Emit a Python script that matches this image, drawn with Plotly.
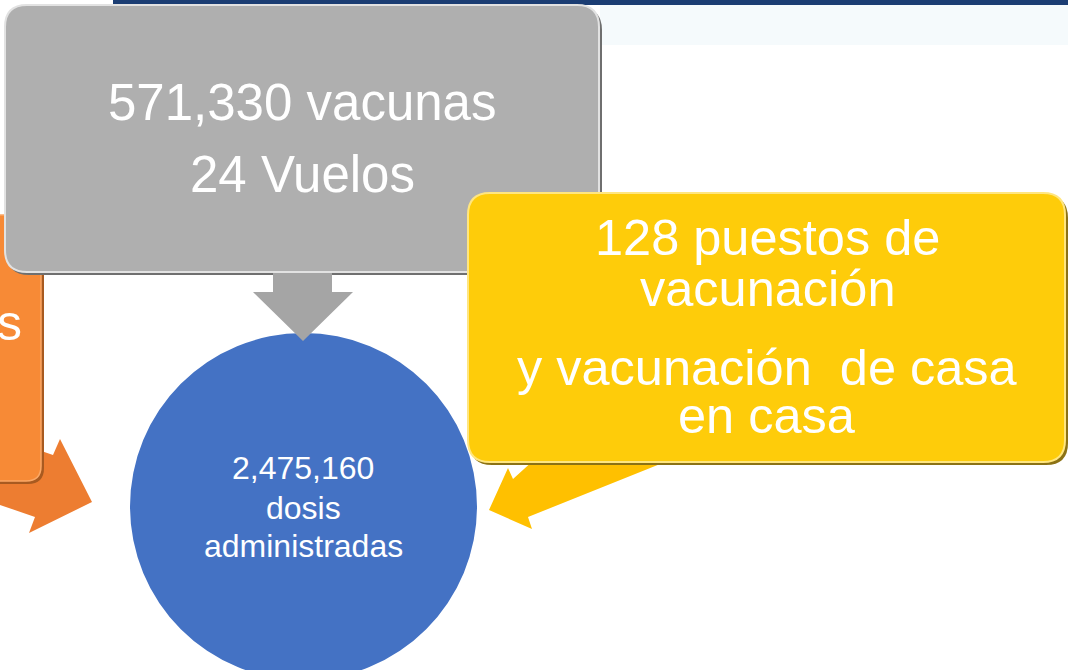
import plotly.graph_objects as go

# ---- content (text values) ----
gray_lines = ["571,330 vacunas", "24 Vuelos"]
yellow_lines = ["128 puestos de", "vacunación", "y vacunación\u00a0 de casa", "en casa"]
circle_lines = ["2,475,160", "dosis", "administradas"]
orange_lines = ["s"]

W, H = 1068, 670
FONT = "Liberation Sans, Arial, sans-serif"

def rrect(x0, y0, x1, y1, r):
    return (f"M {x0+r},{y0} L {x1-r},{y0} Q {x1},{y0} {x1},{y0+r} "
            f"L {x1},{y1-r} Q {x1},{y1} {x1-r},{y1} L {x0+r},{y1} "
            f"Q {x0},{y1} {x0},{y1-r} L {x0},{y0+r} Q {x0},{y0} {x0+r},{y0} Z")

def poly(pts):
    return "M " + " L ".join(f"{x},{y}" for x, y in pts) + " Z"

shapes = []
def add(**kw):
    kw.setdefault("layer", "above")
    kw.setdefault("line", dict(width=0))
    shapes.append(kw)

# header band
add(type="rect", x0=600, y0=5, x1=W, y1=45, fillcolor="#F5FAFC")
add(type="rect", x0=113, y0=0, x1=W, y1=5, fillcolor="#1B3D73")

# orange arrow (behind orange box)
add(type="path", path=poly([(-20, 430), (53, 455), (60, 439), (92, 502), (29, 533), (35, 517), (-20, 498)]),
    fillcolor="#ED7D31")
# orange box
add(type="path", path=rrect(-40, 218, 44, 484, 16), fillcolor="#A85A20")
add(type="path", path=rrect(-40, 215, 41, 481, 15), fillcolor="#F78A36",
    line=dict(color="#FBA866", width=1.5))

# gray box
add(type="path", path=rrect(7, 8, 602, 275, 22), fillcolor="#6F6F6F")
add(type="path", path=rrect(5, 5, 599, 272, 22), fillcolor="#AFAFAF",
    line=dict(color="#E2E2E2", width=2))

# blue circle
add(type="circle", x0=130, y0=333, x1=477, y1=680, fillcolor="#4472C4")

# gray arrow
add(type="path", path=poly([(273, 273), (332, 273), (332, 292), (353, 292), (303, 341),
                            (253, 292), (273, 292)]), fillcolor="#A5A5A5")

# yellow arrow (behind yellow box)
add(type="path", path=poly([(600, 400), (720, 440), (528, 517), (532, 529), (489, 510),
                            (508, 468), (513, 479)]), fillcolor="#FFC000")
# yellow box
add(type="path", path=rrect(470, 196, 1068, 465, 22), fillcolor="#8C7214")
add(type="path", path=rrect(468, 193, 1065, 462, 22), fillcolor="#FECC0A",
    line=dict(color="#FFE680", width=2))

annotations = []
def txt(s, x, y, size, xanchor="center"):
    annotations.append(dict(text=s, x=x, y=y, xref="x", yref="y", showarrow=False,
                            xanchor=xanchor, yanchor="middle",
                            font=dict(family=FONT, size=size, color="white")))

for s, y in zip(gray_lines, [102, 174]):
    txt(s, 302, y, 51)
for s, y in zip(yellow_lines, [237, 288, 367, 415]):
    txt(s, 767, y, 50.5)
for s, y in zip(circle_lines, [468, 508, 546]):
    txt(s, 303, y, 32)
for s in orange_lines:
    txt(s, 24, 323, 50, xanchor="right")

fig = go.Figure()
fig.update_layout(
    width=W, height=H, margin=dict(l=0, r=0, t=0, b=0),
    paper_bgcolor="white", plot_bgcolor="white",
    xaxis=dict(range=[0, W], visible=False, fixedrange=True),
    yaxis=dict(range=[H, 0], visible=False, fixedrange=True),
    shapes=shapes, annotations=annotations, showlegend=False,
)
fig.write_html("out.html", config={"displayModeBar": False},
               post_script="document.body.style.margin='0';document.body.style.overflow='hidden';")
